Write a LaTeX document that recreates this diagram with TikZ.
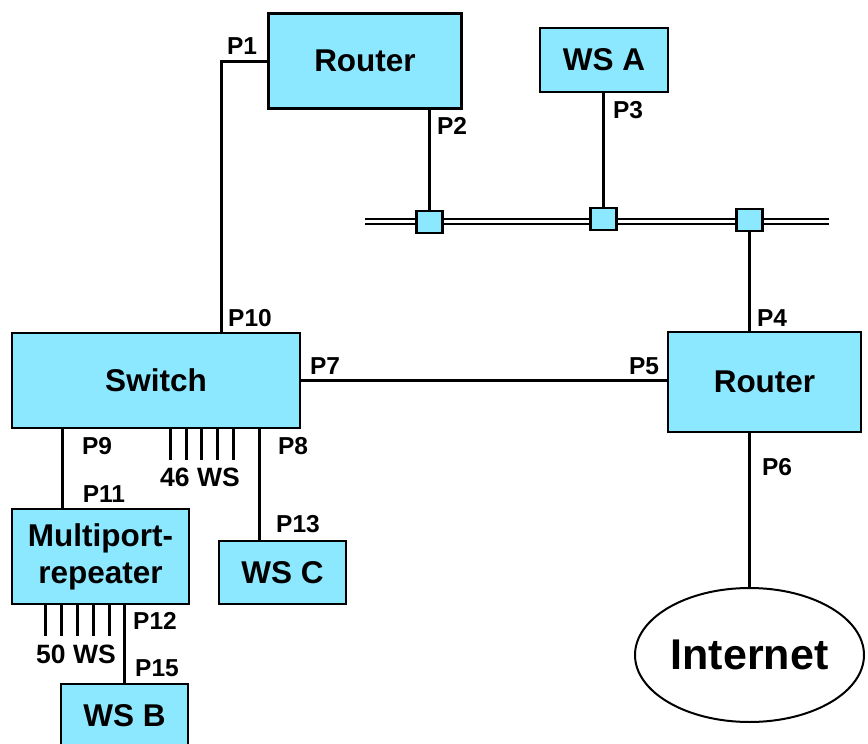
\documentclass[tikz,border=0pt]{standalone}
\usepackage{fontspec}
\setmainfont{Liberation Sans}
\usetikzlibrary{shapes.geometric}
\definecolor{boxfill}{RGB}{140,232,255}
\begin{document}
\begin{tikzpicture}[x=1pt,y=-1pt,
  box/.style={draw=black,line width=2.5pt,fill=boxfill,inner sep=0pt,
    font=\fontsize{31.5}{37}\selectfont\bfseries},
  tap/.style={draw=black,line width=2.5pt,fill=boxfill,inner sep=0pt,
    minimum width=26pt,minimum height=22pt},
  wire/.style={line width=3pt},
  stub/.style={line width=3pt},
  port/.style={font=\fontsize{24.5}{28}\selectfont\bfseries,inner sep=0pt},
  count/.style={font=\fontsize{26.5}{30}\selectfont\bfseries,inner sep=0pt}]
\useasboundingbox (0,0) rectangle (868,744);

% backbone bus
\coordinate (busl) at (365,221);
\coordinate (busr) at (829,221);
\draw[line width=2pt,double=white,double distance=3pt] (busl) -- (busr);

% devices
\node[box,minimum width=193pt,minimum height=95pt] (r1) at (365,61) {Router};
\node[box,minimum width=128pt,minimum height=64pt] (wsa) at (604,60) {WS A};
\node[box,minimum width=288pt,minimum height=95pt] (sw) at (156,380.5) {Switch};
\node[box,minimum width=193pt,minimum height=100pt] (r2) at (764.5,382) {Router};
\node[box,minimum width=177pt,minimum height=95pt,align=center] (mp) at (100.5,556.5) {Multiport-\\repeater};
\node[box,minimum width=127pt,minimum height=63pt] (wsc) at (282.5,572.5) {WS C};
\node[box,minimum width=127pt,minimum height=64pt] (wsb) at (124.5,716) {WS B};
\node[draw=black,line width=2pt,ellipse,minimum width=229pt,minimum height=134pt,
  inner sep=0pt,font=\fontsize{43}{50}\selectfont\bfseries] (inet) at (749.5,655) {Internet};

% bus taps
\node[tap] (t1) at (429.5,222) {};
\node[tap] (t2) at (603.5,219) {};
\node[tap] (t3) at (749.5,220) {};

% port coordinates
\coordinate (c10) at (221.5,333);
\coordinate (c9) at (62.5,428);
\coordinate (c8) at (259.5,428);

% connectors
\draw[wire] (r1.west) -| (c10);
\draw[wire] (r1.south -| t1.north) -- (t1.north);
\draw[wire] (wsa.south -| t2.north) -- (t2.north);
\draw[wire] (t3.south) -- (t3.south |- r2.north);
\draw[wire] (sw.east) -- (sw.east -| r2.west);
\draw[wire] (inet.north) -- (inet.north |- r2.south);
\draw[wire] (c9) -- (c9 |- mp.north);
\draw[wire] (c8) -- (c8 |- wsc.north);
\draw[wire] (mp.south -| wsb.north) -- (wsb.north);

% workstation stubs
\foreach \x in {170.5,186.5,201.5,217.5,233.5} \draw[stub] (\x,428) -- (\x,460);
\foreach \x in {45.5,61.5,77.5,93.5,109.5} \draw[stub] (\x,604) -- (\x,636);

% labels
\node[port] (lp1) at (242,46) {P1};
\node[port] (lp2) at (452,126) {P2};
\node[port] (lp3) at (628,110) {P3};
\node[port] (lp4) at (772,318) {P4};
\node[port] (lp5) at (644,366) {P5};
\node[port] (lp6) at (777,467) {P6};
\node[port] (lp7) at (325,366) {P7};
\node[port] (lp8) at (293,446) {P8};
\node[port] (lp9) at (97,446) {P9};
\node[port] (lp10) at (250,318) {P10};
\node[port] (lp11) at (104,494) {P11};
\node[port] (lp12) at (155,621) {P12};
\node[port] (lp13) at (298,524) {P13};
\node[port] (lp15) at (157,668) {P15};
\node[count] (n46) at (200,477) {46 WS};
\node[count] (n50) at (76,654) {50 WS};
\end{tikzpicture}
\end{document}
